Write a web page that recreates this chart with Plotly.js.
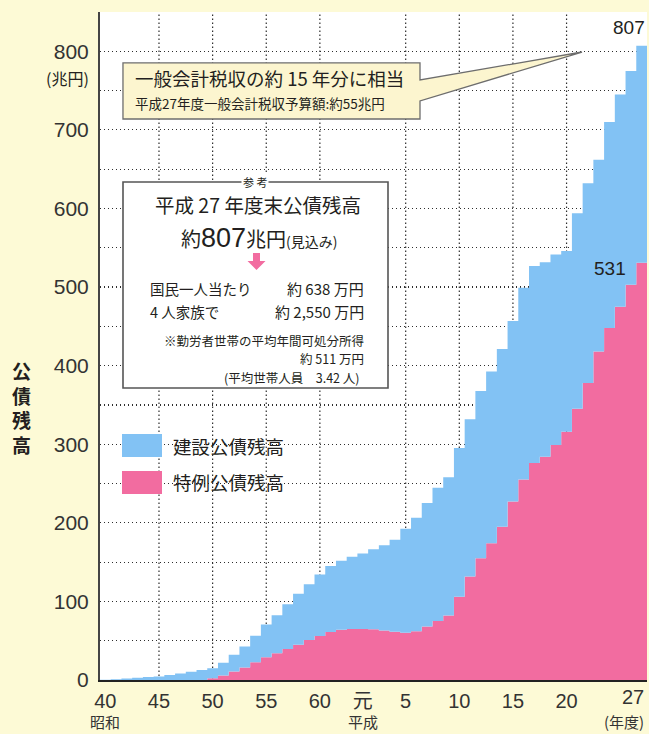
<!DOCTYPE html>
<html><head><meta charset="utf-8">
<script src="https://cdn.plot.ly/plotly-3.0.1.min.js"></script>
<style>html,body{margin:0;padding:0;background:#fdfad6;} #chart{width:649px;height:734px;}</style>
</head><body><div id="chart"></div>
<script>
// ---- data (兆円, 年度末) ----
const years = [1965,1966,1967,1968,1969,1970,1971,1972,1973,1974,
  1975,1976,1977,1978,1979,1980,1981,1982,1983,1984,
  1985,1986,1987,1988,1989,1990,1991,1992,1993,1994,
  1995,1996,1997,1998,1999,2000,2001,2002,2003,2004,
  2005,2006,2007,2008,2009,2010,2011,2012,2013,2014,2015];
// 特例公債残高
const specialBonds = [0,0,0,0,0,0,0,0,0,0,
  2.1,5.7,10.8,16,22.5,29,34,39.5,45,51,
  56,61,64,65,65,64.5,63,61.5,60,62,
  68,75,82,106,131.6,155,174,195,227,255,
  276,284,299,316,345,378,418,448,475,503,531];
// 建設公債残高
const constructionBonds = [0.2,0.9,1.9,2.8,3.7,4.5,6.5,8.4,10.4,12.7,
  12.9,16.4,21.2,26.6,33.8,41.5,48.3,57.0,64.7,70.7,
  78.4,84.1,87.8,91.8,95.9,101.8,108.6,116.9,132.5,144.6,
  157.2,169.7,176.0,189.2,200.1,212.6,218.4,226.1,229.8,244.0,
  250.9,247.7,242.5,229.9,249.0,254.0,244.0,262.0,270.0,272.0,276.0];
const seriesNames = ['建設公債残高','特例公債残高'];
const tickYears = [1965,1970,1975,1980,1985,1989,1993,1998,2003,2008,2015];
const tickLabels = ['40','45','50','55','60','元','5','10','15','20','27'];
const eraYears = [1965,1989];
const eraLabels = ['昭和','平成'];
const unitLabel = '(年度)';
const gridYears = [1970,1975,1980,1985,1993,1998,2003,2008];
const yTicks = [0,100,200,300,400,500,600,700,800];
const yMinorTicks = [50,150,250,350,450,550,650,750,850];
const totalLabel = '807';
const specialLabel = '531';

// ---- styling ----
const BLUE = 'rgb(130,194,244)';
const PINK = 'rgb(242,108,160)';
const CJK = "'Noto Sans CJK JP', sans-serif";
const NUM = "'Liberation Sans', 'Noto Sans CJK JP', sans-serif";
const TXT = '#231f20';
const GRID = '#2e2e2e';
const GDASH = '1.4px,2.6px';
const PX = x => (x - 100) / 547;
const PY = y => (680 - y) / 668;

// step edges
const edges = years.map(y => y - 0.5).concat([years[years.length-1] + 0.5]);
const ext = a => a.concat([a[a.length-1]]);
const totals = years.map((_, i) => specialBonds[i] + constructionBonds[i]);

const traces = [
  {x: edges, y: ext(specialBonds), type:'scatter', mode:'lines', line:{shape:'hv', width:0, color:PINK},
   fill:'tozeroy', fillcolor:PINK, name:seriesNames[1], hoverinfo:'skip'},
  {x: edges, y: ext(totals), type:'scatter', mode:'lines', line:{shape:'hv', width:0, color:BLUE},
   fill:'tonexty', fillcolor:BLUE, name:seriesNames[0], hoverinfo:'skip'}
];

const last = years.length - 1;
// the last tick label sits at the right edge; it is drawn right-aligned below
const ticktext = tickYears.map((y, i) => (y === years[last] ? '' : tickLabels[i]));

const shapes = [];
gridYears.forEach(g => shapes.push({type:'line', xref:'x', yref:'paper', x0:g, x1:g, y0:0, y1:1,
  layer:'below', line:{color:GRID, width:1.2, dash:GDASH}}));

// callout box 1
const p1 = [[123,63],[420,63],[420,80],[582,52],[420,101],[420,119],[123,119]];
shapes.push({type:'path', xref:'paper', yref:'paper', layer:'above',
  path: 'M' + p1.map(p => PX(p[0]).toFixed(4) + ',' + PY(p[1]).toFixed(4)).join(' L') + ' Z',
  fillcolor:'#fcf5cf', line:{color:'#6d6d6d', width:1.3}});
// reference box 2
shapes.push({type:'rect', xref:'paper', yref:'paper', layer:'above', x0:PX(123), x1:PX(388), y0:PY(388), y1:PY(182),
  fillcolor:'#ffffff', line:{color:'#555', width:1.6}});
// pink arrow
const ar = [[253,253],[260,253],[260,261],[265.5,261],[256.5,270],[247.5,261],[253,261]];
shapes.push({type:'path', xref:'paper', yref:'paper', layer:'above',
  path: 'M' + ar.map(p => PX(p[0]).toFixed(4) + ',' + PY(p[1]).toFixed(4)).join(' L') + ' Z',
  fillcolor:PINK, line:{width:0}});
// legend swatches
shapes.push({type:'rect', xref:'paper', yref:'paper', layer:'above', x0:PX(122), x1:PX(162), y0:PY(457), y1:PY(434), fillcolor:BLUE, line:{width:0}});
shapes.push({type:'rect', xref:'paper', yref:'paper', layer:'above', x0:PX(122), x1:PX(162), y0:PY(494), y1:PY(471), fillcolor:PINK, line:{width:0}});

const ann = [];
function A(x, y, text, size, opts) {
  ann.push(Object.assign({xref:'paper', yref:'paper', x:PX(x), y:PY(y), text:text, showarrow:false,
    xanchor:'center', yanchor:'middle', font:{family:CJK, size:size, color:TXT}}, opts || {}));
}
// unit
A(91, 78, '(兆円)', 16, {xanchor:'right'});
// vertical title
A(21, 407, '<b>公<br>債<br>残<br>高</b>', 19);
// box 1
A(133, 78, '一般会計税収の約 15 年分に相当', 18.5, {xanchor:'left'});
A(133, 103, '平成27年度一般会計税収予算額:約55兆円', 13.5, {xanchor:'left'});
// box 2
A(255, 182, '参 考', 11, {bgcolor:'#ffffff', borderpad:1});
A(258, 204, '平成 27 年度末公債残高', 19.5);
A(259, 238, "約<span style=\"font-family:'Liberation Sans';font-size:27px\">807</span>兆円<span style='font-size:14px'>(見込み)</span>", 20);
A(148, 288, '国民一人当たり', 14.5, {xanchor:'left'});
A(366, 288, '約 638 万円', 15, {xanchor:'right'});
A(148, 311, '4 人家族で', 14.5, {xanchor:'left'});
A(366, 311, '約 2,550 万円', 15, {xanchor:'right'});
A(366, 340, '※勤労者世帯の平均年間可処分所得', 12.5, {xanchor:'right'});
A(366, 358.5, '約 511 万円', 12.5, {xanchor:'right'});
A(362, 377.5, '(平均世帯人員　3.42 人)', 12.5, {xanchor:'right'});
// legend labels
A(171, 446, seriesNames[0], 18.5, {xanchor:'left'});
A(171, 482, seriesNames[1], 18.5, {xanchor:'left'});
// era / unit labels under the x axis
eraYears.forEach((y, i) => ann.push({xref:'x', yref:'paper', x:y, y:PY(734), text:eraLabels[i], showarrow:false,
  xanchor:'center', yanchor:'bottom', font:{family:CJK, size:15, color:'#333'}}));
A(646, 734, unitLabel, 15, {xanchor:'right', yanchor:'bottom', font:{family:CJK, size:15, color:'#333'}});
// last tick label, right-aligned at the plot edge
ann.push({xref:'x', yref:'paper', x:years[last] + 0.5, y:PY(697), text:tickLabels[tickLabels.length-1], showarrow:false,
  xanchor:'right', yanchor:'middle', xshift:-1, font:{family:NUM, size:20, color:'#333'}});
// value labels
ann.push({xref:'paper', yref:'y', x:1, y:totals[last], text:totalLabel, showarrow:false, xanchor:'right', yanchor:'bottom', yshift:6,
  font:{family:NUM, size:19, color:TXT}});
ann.push({xref:'x', yref:'y', x:years[last] - 0.5, y:specialBonds[last], text:specialLabel, showarrow:false, xanchor:'right', yanchor:'middle', xshift:-8, yshift:-6,
  font:{family:NUM, size:19, color:TXT}});

const layout = {
  width:649, height:734,
  margin:{l:100, r:2, t:12, b:54},
  paper_bgcolor:'#fdfad6', plot_bgcolor:'#ffffff',
  showlegend:false,
  xaxis:{range:[1964.5, 2015.5], tickmode:'array', tickvals:tickYears, ticktext:ticktext,
    showgrid:false, zeroline:false, showline:true, linecolor:'#222', linewidth:2, ticks:'', ticklabelstandoff:2,
    tickfont:{family:NUM, size:20, color:'#333'}, fixedrange:true},
  yaxis:{range:[0, 850], tickmode:'array', tickvals:yTicks,
    showgrid:true, gridcolor:GRID, gridwidth:1.2, griddash:GDASH,
    minor:{tickmode:'array', tickvals:yMinorTicks, showgrid:true, gridcolor:GRID, gridwidth:1.2, griddash:GDASH},
    zeroline:false, showline:true, linecolor:'#444', linewidth:2, ticks:'', ticklabelstandoff:5,
    tickfont:{family:NUM, size:21, color:'#333'}, fixedrange:true},
  shapes:shapes, annotations:ann
};
Plotly.newPlot('chart', traces, layout, {displayModeBar:false, staticPlot:true});
</script></body></html>
